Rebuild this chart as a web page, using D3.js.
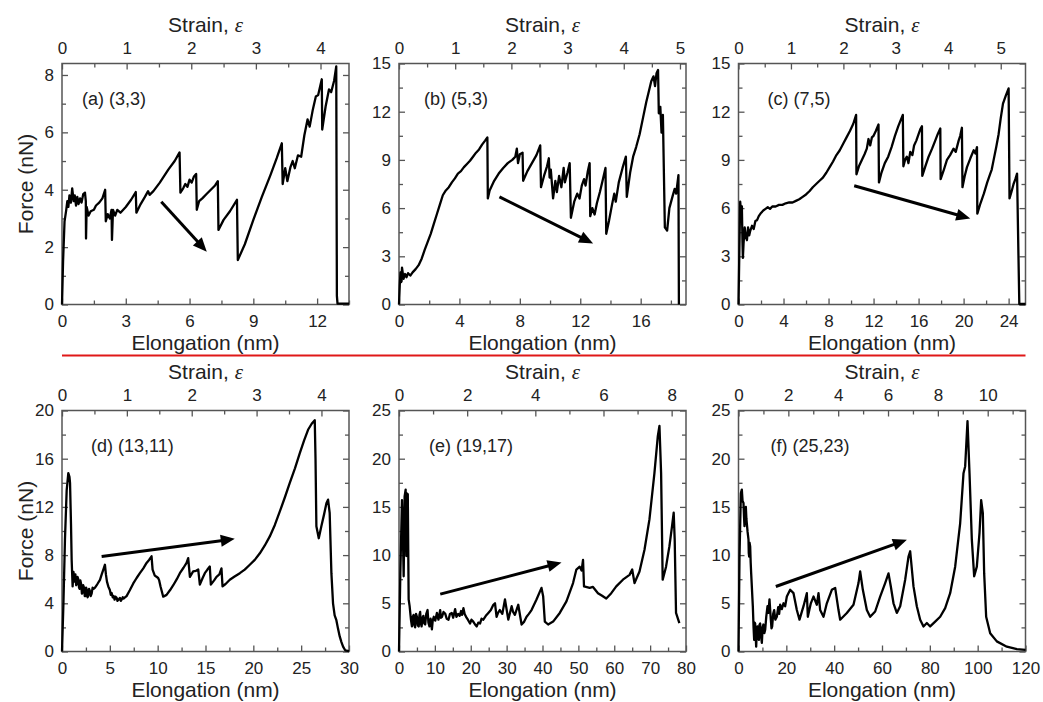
<!DOCTYPE html>
<html>
<head>
<meta charset="utf-8">
<script src="https://cdn.jsdelivr.net/npm/d3@7"></script>
<style>
  body { margin: 0; background: #fff; }
  svg { display: block; font-family: "Liberation Sans", Arial, sans-serif; }
</style>
</head>
<body>
<svg id="chart" width="1043" height="702"></svg>
<script>
// Force–elongation curves, [elongation (nm), force (nN)]
const curveA = [[0,0],[0.05,1.5],[0.12,2.9],[0.2,3.3],[0.25,3.6],[0.3,3.4],[0.35,3.8],[0.42,3.55],[0.48,4.05],[0.55,3.6],[0.6,3.8],[0.66,3.45],[0.72,3.75],[0.78,3.5],[0.85,3.7],[0.92,3.55],[1.0,3.85],[1.08,3.9],[1.12,3.6],[1.13,2.3],[1.16,3.4],[1.25,3.1],[1.35,3.25],[1.5,3.3],[1.6,3.45],[1.75,3.55],[1.9,3.7],[2.03,4.0],[2.06,2.9],[2.15,3.15],[2.25,3.0],[2.33,3.3],[2.35,2.25],[2.4,3.3],[2.5,3.1],[2.6,3.3],[2.75,3.2],[3.0,3.4],[3.25,3.65],[3.47,3.92],[3.5,3.2],[3.7,3.5],[3.9,3.75],[4.05,3.95],[4.12,3.82],[4.3,3.95],[4.6,4.25],[5.0,4.7],[5.3,5.0],[5.53,5.3],[5.57,3.9],[5.7,4.05],[5.8,4.2],[5.9,4.1],[6.0,4.35],[6.1,4.25],[6.2,4.45],[6.31,4.55],[6.34,3.3],[6.45,3.6],[6.6,3.7],[6.8,3.85],[7.0,4.0],[7.2,4.15],[7.33,4.3],[7.36,2.6],[7.6,2.95],[7.9,3.25],[8.23,3.65],[8.27,1.55],[8.6,2.1],[9.0,2.95],[9.4,3.75],[9.8,4.5],[10.1,5.1],[10.34,5.62],[10.38,4.2],[10.5,4.75],[10.6,4.3],[10.75,4.8],[10.85,5.0],[10.95,4.75],[11.1,5.2],[11.25,5.15],[11.4,5.9],[11.55,6.45],[11.65,6.2],[11.8,6.8],[11.94,7.25],[12.05,7.3],[12.22,7.85],[12.24,6.1],[12.4,6.9],[12.56,7.5],[12.66,7.4],[12.8,7.8],[12.9,8.3],[12.93,0.3],[12.96,0.03],[13.5,0.03]];

const curveB = [[0,0],[0.05,1.2],[0.1,2.0],[0.15,1.4],[0.2,2.3],[0.3,1.6],[0.4,1.9],[0.5,1.7],[0.6,1.95],[0.75,1.8],[0.9,2.0],[1.1,2.2],[1.3,2.45],[1.5,2.85],[1.7,3.4],[1.9,3.9],[2.1,4.4],[2.3,5.0],[2.5,5.6],[2.7,6.2],[2.9,6.8],[3.1,7.1],[3.3,7.3],[3.5,7.6],[3.7,7.85],[3.9,8.15],[4.1,8.3],[4.3,8.55],[4.5,8.75],[4.7,8.95],[4.9,9.2],[5.1,9.45],[5.3,9.65],[5.5,9.95],[5.7,10.2],[5.85,10.4],[5.88,6.6],[6.0,7.1],[6.3,7.7],[6.6,8.15],[6.9,8.5],[7.2,8.8],[7.5,9.0],[7.7,9.2],[7.8,9.7],[7.88,8.8],[8.0,9.35],[8.18,9.45],[8.22,7.7],[8.5,8.3],[8.8,8.8],[9.1,9.3],[9.35,9.9],[9.4,7.3],[9.6,8.0],[9.8,8.6],[9.92,9.1],[9.97,7.9],[10.05,8.4],[10.2,6.6],[10.35,7.7],[10.45,7.0],[10.6,8.0],[10.75,7.3],[10.9,8.5],[10.98,7.6],[11.15,8.2],[11.3,8.8],[11.38,5.4],[11.6,6.4],[11.8,6.9],[11.95,6.6],[12.1,7.4],[12.25,7.8],[12.35,7.4],[12.5,8.3],[12.62,8.8],[12.66,5.5],[12.8,6.0],[12.95,5.6],[13.1,6.3],[13.3,7.0],[13.5,7.8],[13.67,8.5],[13.72,4.4],[13.9,5.2],[14.1,6.2],[14.25,6.9],[14.35,6.4],[14.55,7.6],[14.8,8.5],[15.02,9.2],[15.08,6.7],[15.3,8.2],[15.5,9.2],[15.7,9.8],[15.93,10.6],[16.15,11.6],[16.37,12.6],[16.55,13.3],[16.7,13.9],[16.85,14.2],[16.95,13.6],[17.05,14.4],[17.15,14.6],[17.2,11.9],[17.3,12.3],[17.38,10.7],[17.47,11.8],[17.6,4.8],[17.75,4.6],[17.9,6.0],[18.1,6.7],[18.25,7.2],[18.35,6.9],[18.5,8.05],[18.53,0]];

const curveC = [[0,0],[0.08,3.5],[0.15,6.4],[0.22,5.8],[0.3,6.1],[0.35,4.0],[0.39,2.9],[0.45,3.8],[0.55,4.8],[0.65,4.2],[0.75,4.0],[0.85,4.8],[0.95,4.3],[1.05,4.6],[1.2,4.9],[1.35,4.7],[1.5,5.2],[1.65,5.25],[1.8,5.5],[2.0,5.7],[2.2,5.85],[2.4,5.95],[2.6,6.05],[2.8,5.95],[3.0,6.1],[3.3,6.1],[3.6,6.2],[3.9,6.2],[4.2,6.3],[4.5,6.35],[4.8,6.35],[5.1,6.45],[5.4,6.55],[5.7,6.7],[6.0,6.85],[6.3,7.05],[6.6,7.3],[6.9,7.5],[7.2,7.7],[7.5,7.9],[7.8,8.2],[8.1,8.55],[8.4,8.9],[8.7,9.3],[9.0,9.6],[9.3,10.0],[9.6,10.4],[9.9,10.8],[10.2,11.25],[10.45,11.8],[10.48,8.1],[10.7,8.6],[10.96,9.0],[11.2,9.35],[11.4,9.7],[11.55,10.3],[11.7,9.9],[11.85,10.4],[12.0,10.5],[12.2,10.8],[12.44,11.2],[12.48,7.6],[12.7,8.2],[13.0,8.8],[13.3,9.2],[13.6,9.8],[13.9,10.5],[14.2,11.1],[14.6,11.8],[14.65,8.6],[14.8,9.0],[14.96,9.2],[15.1,8.8],[15.26,9.5],[15.45,9.3],[15.6,9.9],[15.8,10.2],[16.0,10.6],[16.15,10.9],[16.3,11.1],[16.33,8.0],[16.6,8.6],[16.89,9.2],[17.2,9.7],[17.48,10.2],[17.7,10.6],[17.93,10.95],[17.96,7.8],[18.25,8.4],[18.52,9.0],[18.8,9.3],[19.11,9.7],[19.3,9.5],[19.56,10.2],[19.7,10.5],[19.85,11.0],[19.9,7.3],[20.1,8.0],[20.3,8.55],[20.6,9.1],[20.9,9.6],[21.05,9.4],[21.19,9.8],[21.22,5.65],[21.5,6.3],[21.8,6.9],[22.1,7.6],[22.37,8.15],[22.5,8.4],[22.67,9.0],[22.9,9.8],[23.11,10.6],[23.3,11.6],[23.5,12.5],[23.75,13.0],[24.0,13.45],[24.08,6.6],[24.25,7.0],[24.44,7.5],[24.6,7.8],[24.75,8.15],[24.85,4.0],[24.95,0.03],[25.5,0.03]];

const curveD = [[0,0],[0.15,4],[0.31,9.3],[0.49,13.4],[0.66,14.8],[0.78,14.5],[0.84,14.0],[0.94,10.6],[1.01,7.6],[1.11,5.4],[1.2,6.6],[1.3,5.8],[1.4,6.4],[1.48,5.5],[1.55,5.6],[1.62,6.2],[1.7,6.0],[1.78,5.3],[1.85,5.2],[1.92,5.9],[2.0,5.6],[2.08,4.8],[2.15,4.9],[2.22,5.5],[2.3,5.3],[2.38,4.6],[2.45,4.6],[2.52,5.3],[2.6,5.1],[2.68,4.5],[2.75,4.7],[2.83,5.2],[2.92,5.0],[3.0,4.6],[3.1,4.8],[3.2,5.3],[3.3,5.2],[3.45,5.3],[3.7,5.6],[3.97,5.95],[4.15,6.4],[4.32,6.8],[4.49,7.2],[4.59,6.4],[4.7,5.8],[4.84,5.4],[5.0,5.1],[5.1,4.7],[5.19,4.85],[5.3,4.5],[5.4,4.6],[5.5,4.3],[5.6,4.55],[5.71,4.45],[5.8,4.2],[5.9,4.3],[6.05,4.45],[6.15,4.2],[6.23,4.3],[6.35,4.5],[6.45,4.4],[6.75,4.6],[7.1,5.1],[7.45,5.65],[7.8,6.1],[8.14,6.5],[8.5,6.9],[8.84,7.35],[9.1,7.6],[9.36,7.9],[9.47,6.8],[9.7,6.3],[9.88,6.2],[10.05,6.1],[10.16,5.9],[10.3,5.4],[10.58,4.55],[10.93,4.7],[11.3,5.1],[11.63,5.5],[12.0,6.0],[12.32,6.5],[12.7,6.95],[13.02,7.35],[13.19,7.75],[13.37,6.2],[13.71,6.65],[14.0,6.7],[14.24,6.8],[14.41,5.55],[14.7,6.1],[14.93,6.5],[15.2,6.8],[15.45,7.05],[15.56,5.55],[15.9,5.9],[16.15,6.2],[16.45,6.4],[16.67,6.9],[16.78,5.4],[17.1,5.6],[17.54,5.95],[18.0,6.2],[18.59,6.5],[19.1,6.8],[19.63,7.2],[20.15,7.6],[20.68,8.15],[21.2,8.8],[21.72,9.55],[22.25,10.5],[22.76,11.6],[23.3,12.8],[23.81,14.0],[24.35,15.2],[24.85,16.45],[25.3,17.5],[25.72,18.4],[26.1,18.9],[26.42,19.2],[26.5,16],[26.59,10.4],[26.84,9.4],[27.11,10.4],[27.4,11.4],[27.64,12.3],[27.81,12.6],[27.98,11.5],[28.16,6.5],[28.33,4.0],[28.5,3.0],[28.68,2.6],[28.85,1.9],[29.03,1.25],[29.2,0.8],[29.38,0.4],[29.6,0.1],[30,0.03]];

const curveE = [[0,0],[0.37,8.1],[0.83,15.7],[1.11,11.6],[1.3,7.8],[1.57,16.1],[1.85,16.8],[2.04,9.9],[2.22,16.4],[2.45,16.3],[2.69,5.4],[2.96,4.7],[3.33,3.3],[3.6,2.6],[3.85,3.6],[4.07,3.8],[4.3,2.7],[4.5,2.5],[4.75,3.9],[5.0,3.6],[5.25,2.7],[5.5,2.6],[5.7,3.8],[5.9,4.1],[6.1,2.9],[6.3,2.6],[6.55,3.5],[6.8,3.7],[7.05,2.9],[7.3,2.8],[7.6,3.9],[7.96,4.3],[8.2,3.0],[8.5,2.6],[8.8,3.4],[9.17,2.3],[9.4,3.2],[9.7,3.6],[10.1,3.2],[10.56,4.0],[11.0,3.3],[11.48,4.3],[11.7,3.5],[12.0,3.6],[12.4,4.1],[12.9,3.9],[13.3,3.4],[13.8,3.3],[14.2,3.9],[14.7,4.0],[15.1,3.5],[15.65,4.4],[16.0,3.6],[16.5,3.9],[16.9,3.7],[17.3,4.2],[17.6,3.8],[17.96,4.5],[18.3,3.9],[18.7,3.6],[19.2,3.3],[19.8,2.9],[20.2,3.3],[20.7,3.1],[21.2,2.8],[21.67,2.6],[22.1,3.0],[22.6,2.9],[23.0,3.4],[23.5,3.3],[24.2,3.7],[24.9,4.0],[25.6,4.3],[26.3,4.85],[26.76,5.0],[27.2,3.6],[27.6,4.0],[28.1,4.3],[28.8,3.9],[29.54,5.4],[30.46,3.3],[31.4,4.7],[31.8,4.1],[32.3,3.8],[33.24,4.85],[34.17,2.8],[34.9,3.1],[35.56,3.6],[36.2,3.9],[36.94,4.3],[38.33,5.4],[39.72,6.6],[40.19,5.7],[40.65,3.1],[41.57,2.8],[42.96,3.1],[44.81,4.0],[46.67,5.2],[48.52,7.1],[49.44,8.5],[50.37,8.8],[50.9,8.4],[51.3,9.5],[51.57,6.75],[53.15,6.6],[54.07,6.7],[55.46,6.05],[56.5,5.8],[57.78,5.5],[59.17,6.05],[60.56,6.75],[62.41,7.45],[64.26,7.95],[65.0,8.5],[65.65,7.1],[67.04,8.3],[68.43,10.55],[69.81,13.7],[71.2,18.5],[72.13,22.3],[72.6,23.4],[73.06,18.5],[73.5,7.45],[74.44,8.8],[75.37,10.9],[76.11,13.0],[76.57,14.4],[76.85,11.6],[77.22,4.0],[78.15,2.95]];

const curveF = [[0,0],[0.42,9.85],[0.98,16.4],[1.39,16.8],[1.7,15.6],[2.09,15.4],[2.3,14.0],[2.5,13.0],[2.8,14.6],[3.07,15.0],[3.3,13.8],[3.48,13.3],[3.8,12.4],[4.18,11.6],[4.3,10.2],[4.46,9.85],[4.6,11.3],[4.88,10.9],[5.1,9.2],[5.3,8.1],[5.99,4.7],[6.3,2.5],[6.55,1.2],[6.75,3.0],[6.97,2.9],[7.2,1.5],[7.39,0.5],[7.65,2.2],[7.94,2.6],[8.2,1.4],[8.5,1.2],[8.8,2.8],[9.06,2.9],[9.4,1.6],[9.76,0.9],[10.1,2.5],[10.4,2.8],[10.8,1.9],[11.15,2.25],[11.6,3.6],[12.13,4.7],[12.5,4.0],[12.96,5.4],[13.25,4.3],[13.52,3.3],[13.8,2.4],[14.08,2.6],[14.5,3.9],[14.91,4.3],[15.4,3.3],[16.03,3.6],[16.6,4.6],[17.0,3.9],[17.42,4.85],[18.1,4.4],[18.82,5.0],[19.5,4.7],[20.21,5.7],[21.6,6.4],[23.0,6.05],[24.39,4.3],[25.5,3.3],[27.18,4.7],[28.57,6.05],[28.99,3.6],[30.24,5.0],[31.36,5.7],[32.75,4.85],[33.45,6.05],[34.15,4.3],[35.54,3.6],[36.93,5.0],[39.02,6.4],[40.42,6.6],[41.81,4.3],[42.51,3.3],[45.3,4.0],[48.08,4.85],[50.17,7.1],[50.87,8.3],[51.99,6.4],[53.66,4.3],[55.05,3.6],[57.14,4.15],[59.23,5.7],[61.32,7.1],[62.72,8.1],[63.69,6.75],[64.81,5.0],[66.2,4.0],[67.6,4.7],[69.69,7.45],[71.08,9.85],[71.78,10.4],[73.17,6.75],[74.56,4.7],[75.96,3.3],[77.35,2.6],[78.75,2.95],[80.14,2.6],[82.23,3.1],[84.32,3.6],[86.41,4.5],[88.5,6.05],[90.59,8.8],[92.68,13.3],[94.08,18.5],[94.77,19.2],[95.75,23.9],[96.59,18.5],[97.56,11.6],[98.54,7.8],[99.65,8.8],[100.77,12.3],[101.46,15.7],[102.16,14.35],[102.72,8.1],[103.55,3.6],[105.23,1.9],[108.0,1.05],[112.2,0.5],[116.4,0.25],[120,0.17]];

// Trend arrows, [[tailX, tailY], [tipX, tipY]] in data units
const arrowA = [[4.67, 3.58], [6.81, 1.84]];
const arrowB = [[6.65, 6.7], [12.85, 3.8]];
const arrowC = [[10.28, 7.39], [20.59, 5.35]];
const arrowD = [[4.14, 7.88], [18.06, 9.35]];
const arrowE = [[11.5, 5.95], [45.3, 9.23]];
const arrowF = [[15.6, 6.74], [70.4, 11.58]];

// Panel labels (chirality)
const labels = ["(a) (3,3)", "(b) (5,3)", "(c) (7,5)", "(d) (13,11)", "(e) (19,17)", "(f) (25,23)"];

// Axis domains and tick values
const elongMax = [13.5, 19, 25.5, 30, 80, 120];
const forceMax = [8.4, 15, 15, 20, 25, 25];
const initialLength = [3.04, 3.72, 4.66, 6.78, 9.5, 10.42]; // nm, converts elongation to strain
const elongTicks = [[0,3,6,9,12],[0,4,8,12,16],[0,4,8,12,16,20,24],[0,5,10,15,20,25,30],[0,10,20,30,40,50,60,70,80],[0,20,40,60,80,100,120]];
const elongMinorStep = [1.5, 2, 2, 2.5, 5, 10];
const forceTicks = [[0,2,4,6,8],[0,3,6,9,12,15],[0,3,6,9,12,15],[0,4,8,12,16,20],[0,5,10,15,20,25],[0,5,10,15,20,25]];
const forceMinorStep = [1, 1.5, 1.5, 2, 2.5, 2.5];
const strainTicks = [[0,1,2,3,4],[0,1,2,3,4,5],[0,1,2,3,4,5],[0,1,2,3,4],[0,2,4,6,8],[0,2,4,6,8,10]];
const strainMinorStep = [0.5, 0.5, 0.5, 0.5, 1, 1];

const curves = [curveA, curveB, curveC, curveD, curveE, curveF];
const arrows = [arrowA, arrowB, arrowC, arrowD, arrowE, arrowF];

// Layout
const colLeft = [62, 399, 738.5];
const rowTop = [63.5, 410.5];
const W = 287, H = 241;
const labelOffsetX = [20, 25, 29, 29, 30, 32];
const frameColor = "#555";
const textColor = "#222";

const svg = d3.select("#chart");

// Separator between the two rows
svg.append("line")
  .attr("x1", 62).attr("x2", 1025.5)
  .attr("y1", 355.5).attr("y2", 355.5)
  .attr("stroke", "#e01818").attr("stroke-width", 2);

function styleAxis(g, fontSize) {
  g.select(".domain").remove();
  g.selectAll(".tick line").attr("stroke", frameColor).attr("stroke-width", 1.3);
  g.selectAll(".tick text").attr("fill", textColor).style("font-size", fontSize + "px")
    .style("font-family", '"Liberation Sans", Arial, sans-serif');
}

function minorValues(max, step, majors) {
  return d3.range(0, max + 1e-9, step).filter(v => !majors.some(m => Math.abs(m - v) < 1e-9));
}

curves.forEach((curve, i) => {
  const left = colLeft[i % 3], top = rowTop[Math.floor(i / 3)];
  const g = svg.append("g").attr("transform", `translate(${left},${top})`);

  const x = d3.scaleLinear().domain([0, elongMax[i]]).range([0, W]);
  const y = d3.scaleLinear().domain([0, forceMax[i]]).range([H, 0]);
  const s = d3.scaleLinear().domain([0, elongMax[i] / initialLength[i]]).range([0, W]);

  // Bottom: elongation
  const bx = g.append("g").attr("transform", `translate(0,${H})`)
    .call(d3.axisBottom(x).tickValues(elongTicks[i]).tickSize(-6).tickPadding(10).tickFormat(d3.format("d")));
  styleAxis(bx, 17);
  const bxm = g.append("g").attr("transform", `translate(0,${H})`)
    .call(d3.axisBottom(x).tickValues(minorValues(elongMax[i], elongMinorStep[i], elongTicks[i])).tickSize(-4).tickFormat(""));
  styleAxis(bxm, 17);

  // Top: strain
  const tx = g.append("g")
    .call(d3.axisTop(s).tickValues(strainTicks[i]).tickSize(-6).tickPadding(10).tickFormat(d3.format("d")));
  styleAxis(tx, 17);
  const txm = g.append("g")
    .call(d3.axisTop(s).tickValues(minorValues(s.domain()[1], strainMinorStep[i], strainTicks[i])).tickSize(-4).tickFormat(""));
  styleAxis(txm, 17);

  // Left: force
  const ly = g.append("g")
    .call(d3.axisLeft(y).tickValues(forceTicks[i]).tickSize(-6).tickPadding(8).tickFormat(d3.format("d")));
  styleAxis(ly, 17);
  const lym = g.append("g")
    .call(d3.axisLeft(y).tickValues(minorValues(forceMax[i], forceMinorStep[i], forceTicks[i])).tickSize(-4).tickFormat(""));
  styleAxis(lym, 17);

  // Right: mirrored force ticks
  const ry = g.append("g").attr("transform", `translate(${W},0)`)
    .call(d3.axisRight(y).tickValues(forceTicks[i]).tickSize(-6).tickFormat(""));
  styleAxis(ry, 17);
  const rym = g.append("g").attr("transform", `translate(${W},0)`)
    .call(d3.axisRight(y).tickValues(minorValues(forceMax[i], forceMinorStep[i], forceTicks[i])).tickSize(-4).tickFormat(""));
  styleAxis(rym, 17);

  // Frame
  g.append("rect").attr("width", W).attr("height", H)
    .attr("fill", "none").attr("stroke", frameColor).attr("stroke-width", 1.5);

  // Curve
  const line = d3.line().x(d => x(d[0])).y(d => y(d[1]));
  g.append("path").datum(curve)
    .attr("d", line)
    .attr("fill", "none").attr("stroke", "#000").attr("stroke-width", 2.3)
    .attr("stroke-linejoin", "round");

  // Trend arrow
  const [t0, t1] = arrows[i];
  const x0 = x(t0[0]), y0 = y(t0[1]), x1 = x(t1[0]), y1 = y(t1[1]);
  const ang = Math.atan2(y1 - y0, x1 - x0);
  const headLen = 14, headHalf = 6;
  const bxp = x1 - headLen * Math.cos(ang), byp = y1 - headLen * Math.sin(ang);
  g.append("line")
    .attr("x1", x0).attr("y1", y0).attr("x2", bxp + 2 * Math.cos(ang)).attr("y2", byp + 2 * Math.sin(ang))
    .attr("stroke", "#000").attr("stroke-width", 3);
  g.append("path")
    .attr("d", `M${x1},${y1}L${bxp - headHalf * Math.sin(ang)},${byp + headHalf * Math.cos(ang)}L${bxp + headHalf * Math.sin(ang)},${byp - headHalf * Math.cos(ang)}Z`)
    .attr("fill", "#000");

  // Panel label
  g.append("text").attr("x", labelOffsetX[i]).attr("y", 41)
    .attr("fill", textColor).style("font-size", "18px").text(labels[i]);

  // Axis titles
  const st = g.append("text").attr("x", W / 2).attr("y", -32)
    .attr("text-anchor", "middle").attr("fill", textColor).style("font-size", "21px");
  st.append("tspan").text("Strain, ");
  st.append("tspan").style("font-family", '"Liberation Serif", "DejaVu Serif", serif')
    .style("font-style", "italic").text("ε");

  g.append("text").attr("x", W / 2).attr("y", H + 45)
    .attr("text-anchor", "middle").attr("fill", textColor).style("font-size", "21px")
    .text("Elongation (nm)");

  if (i % 3 === 0) {
    g.append("text")
      .attr("transform", `translate(${-29},${H / 2}) rotate(-90)`)
      .attr("text-anchor", "middle").attr("fill", textColor).style("font-size", "21px")
      .text("Force (nN)");
  }
});
</script>
</body>
</html>
